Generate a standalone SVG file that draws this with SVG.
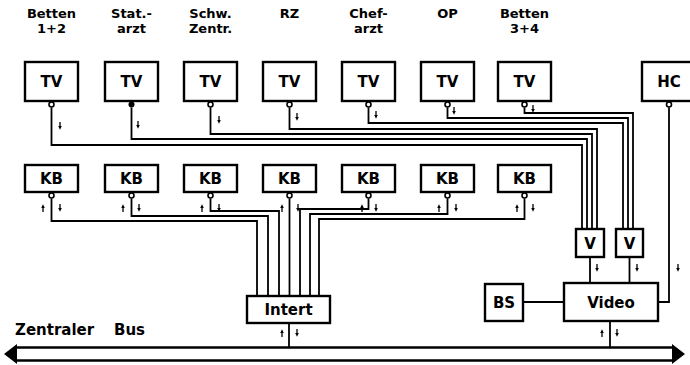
<svg xmlns="http://www.w3.org/2000/svg" xmlns:xlink="http://www.w3.org/1999/xlink" width="690" height="365" viewBox="0 0 690 365">
<style>
.box{fill:#fff;stroke:#000;stroke-width:2.4}
.w{fill:none;stroke:#000;stroke-width:1.8}
.lbl{font-family:"DejaVu Sans",sans-serif;font-weight:bold;font-size:13px;text-anchor:middle;fill:#000}
.bt{font-family:"DejaVu Sans",sans-serif;font-weight:bold;font-size:15px;text-anchor:middle;fill:#000}
.cn{fill:#fff;stroke:#000;stroke-width:1.6}
</style>
<defs>
<g id="ad"><path d="M0 -4 V1" stroke="#000" stroke-width="1.3"/><path d="M-1.8 0 L1.8 0 L0 3.8 Z" fill="#000"/></g>
<g id="au"><path d="M0 4 V-1" stroke="#000" stroke-width="1.3"/><path d="M-1.8 0 L1.8 0 L0 -3.8 Z" fill="#000"/></g>
</defs>
<rect width="690" height="365" fill="#fff"/>

<g id="labels">
<text class="lbl" x="51.5" y="18">Betten</text><text class="lbl" x="51.5" y="33">1+2</text>
<text class="lbl" x="131.5" y="18">Stat.-</text><text class="lbl" x="131.5" y="33">arzt</text>
<text class="lbl" x="210.5" y="18">Schw.</text><text class="lbl" x="210.5" y="33">Zentr.</text>
<text class="lbl" x="289.5" y="18">RZ</text>
<text class="lbl" x="368.5" y="18">Chef-</text><text class="lbl" x="368.5" y="33">arzt</text>
<text class="lbl" x="447.5" y="18">OP</text>
<text class="lbl" x="524.5" y="18">Betten</text><text class="lbl" x="524.5" y="33">3+4</text>
</g>

<g id="connectors">
<path class="w" d="M51.5 107.5 V145 H582 V229"/>
<path class="w" d="M131.5 107.5 V139 H587 V229"/>
<path class="w" d="M210.5 107.5 V134 H592 V229"/>
<path class="w" d="M289.5 107.5 V129 H597 V229"/>
<path class="w" d="M368.5 107.5 V123 H623 V229"/>
<path class="w" d="M447.5 107.5 V118 H628 V229"/>
<path class="w" d="M524.5 107.5 V113 H633 V229"/>
<path class="w" d="M669 107.5 V302 H658"/>
<path class="w" d="M51.5 198.5 V221 H257 V296"/>
<path class="w" d="M131.5 198.5 V216 H268 V296"/>
<path class="w" d="M210.5 198.5 V211 H279 V296"/>
<path class="w" d="M289.5 198.5 V296"/>
<path class="w" d="M368.5 198.5 V209 H300 V296"/>
<path class="w" d="M447.5 198.5 V214 H310 V296"/>
<path class="w" d="M524.5 198.5 V219 H319 V296"/>
<path class="w" d="M289 323 V347"/>
<path class="w" d="M610 321 V347"/>
<path class="w" d="M590 257 V283"/>
<path class="w" d="M629.5 257 V283"/>
<path class="w" d="M523 302 H564"/>
<use xlink:href="#ad" x="60" y="126"/><use xlink:href="#ad" x="138" y="125"/><use xlink:href="#ad" x="219" y="120"/>
<use xlink:href="#ad" x="297" y="117"/><use xlink:href="#ad" x="376" y="115"/><use xlink:href="#ad" x="454" y="111"/>
<use xlink:href="#ad" x="533" y="109"/>
<use xlink:href="#au" x="43" y="208"/><use xlink:href="#ad" x="60" y="208"/>
<use xlink:href="#au" x="123" y="208"/><use xlink:href="#ad" x="139" y="208"/>
<use xlink:href="#au" x="202" y="208"/><use xlink:href="#ad" x="219" y="208"/>
<use xlink:href="#au" x="282" y="208"/><use xlink:href="#ad" x="298" y="208"/>
<use xlink:href="#au" x="362" y="208"/><use xlink:href="#ad" x="376" y="208"/>
<use xlink:href="#au" x="439" y="208"/><use xlink:href="#ad" x="456" y="208"/>
<use xlink:href="#au" x="517" y="208"/><use xlink:href="#ad" x="533" y="208"/>
<use xlink:href="#au" x="282" y="333"/><use xlink:href="#ad" x="297" y="333"/>
<use xlink:href="#au" x="602" y="333"/><use xlink:href="#ad" x="617" y="333"/>
<use xlink:href="#ad" x="597" y="268"/><use xlink:href="#ad" x="637" y="268"/><use xlink:href="#ad" x="678" y="268"/>
</g>

<g id="bus">
<path d="M16 347.5 H674 M16 360.5 H674" stroke="#000" stroke-width="2.6" fill="none"/>
<path d="M4 354 L17 344 L17 364 Z M685 354 L672 344 L672 364 Z" fill="#000"/>
<text x="15" y="335" font-family="DejaVu Sans, sans-serif" font-weight="bold" font-size="15" fill="#000">Zentraler<tspan x="114">Bus</tspan></text>
</g>

<g id="tv1"><rect class="box" x="25" y="62" width="53" height="39"/><text class="bt" x="51.5" y="87">TV</text><circle class="cn" cx="51.5" cy="104.5" r="2.5"/></g>
<g id="tv2"><rect class="box" x="105" y="62" width="53" height="39"/><text class="bt" x="131.5" y="87">TV</text><circle cx="131.5" cy="104.5" r="3" fill="#000"/></g>
<g id="tv3"><rect class="box" x="184" y="62" width="53" height="39"/><text class="bt" x="210.5" y="87">TV</text><circle class="cn" cx="210.5" cy="104.5" r="2.5"/></g>
<g id="tv4"><rect class="box" x="263" y="62" width="53" height="39"/><text class="bt" x="289.5" y="87">TV</text><circle class="cn" cx="289.5" cy="104.5" r="2.5"/></g>
<g id="tv5"><rect class="box" x="342" y="62" width="53" height="39"/><text class="bt" x="368.5" y="87">TV</text><circle class="cn" cx="368.5" cy="104.5" r="2.5"/></g>
<g id="tv6"><rect class="box" x="421" y="62" width="53" height="39"/><text class="bt" x="447.5" y="87">TV</text><circle class="cn" cx="447.5" cy="104.5" r="2.5"/></g>
<g id="tv7"><rect class="box" x="498" y="62" width="53" height="39"/><text class="bt" x="524.5" y="87">TV</text><circle class="cn" cx="524.5" cy="104.5" r="2.5"/></g>
<g id="hc"><rect class="box" x="642" y="62" width="60" height="39"/><text class="bt" x="669" y="87">HC</text><circle class="cn" cx="669" cy="104.5" r="2.5"/></g>

<g id="kb1"><rect class="box" x="25" y="165" width="53" height="27"/><text class="bt" x="51.5" y="184">KB</text><circle class="cn" cx="51.5" cy="195.5" r="2.5"/></g>
<g id="kb2"><rect class="box" x="105" y="165" width="53" height="27"/><text class="bt" x="131.5" y="184">KB</text><circle class="cn" cx="131.5" cy="195.5" r="2.5"/></g>
<g id="kb3"><rect class="box" x="184" y="165" width="53" height="27"/><text class="bt" x="210.5" y="184">KB</text><circle class="cn" cx="210.5" cy="195.5" r="2.5"/></g>
<g id="kb4"><rect class="box" x="263" y="165" width="53" height="27"/><text class="bt" x="289.5" y="184">KB</text><circle class="cn" cx="289.5" cy="195.5" r="2.5"/></g>
<g id="kb5"><rect class="box" x="342" y="165" width="53" height="27"/><text class="bt" x="368.5" y="184">KB</text><circle class="cn" cx="368.5" cy="195.5" r="2.5"/></g>
<g id="kb6"><rect class="box" x="421" y="165" width="53" height="27"/><text class="bt" x="447.5" y="184">KB</text><circle class="cn" cx="447.5" cy="195.5" r="2.5"/></g>
<g id="kb7"><rect class="box" x="498" y="165" width="53" height="27"/><text class="bt" x="524.5" y="184">KB</text><circle class="cn" cx="524.5" cy="195.5" r="2.5"/></g>

<g id="v1"><rect class="box" x="576" y="229" width="28" height="28"/><text class="bt" x="590" y="249" font-size="14">V</text></g>
<g id="v2"><rect class="box" x="616" y="229" width="27" height="28"/><text class="bt" x="629.5" y="249" font-size="14">V</text></g>
<g id="bs"><rect class="box" x="485" y="284" width="38" height="37"/><text class="bt" x="504" y="308">BS</text></g>
<g id="video"><rect class="box" x="564" y="283" width="94" height="38"/><text class="bt" x="611" y="308">Video</text></g>
<g id="intert"><rect class="box" x="247" y="296" width="83" height="27"/><text class="bt" x="288.5" y="315">Intert</text></g>
</svg>
